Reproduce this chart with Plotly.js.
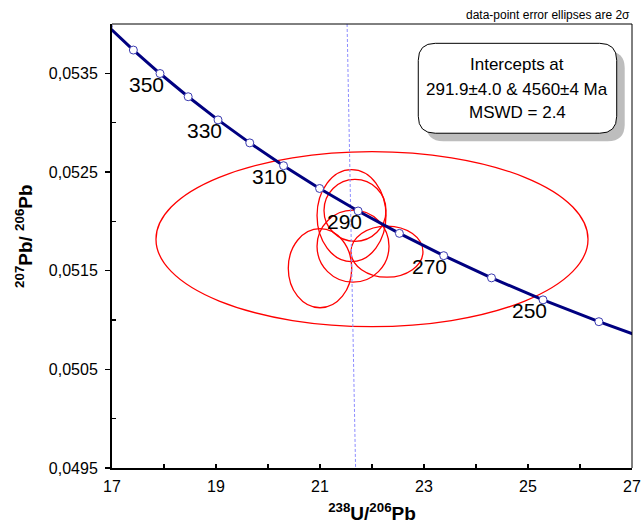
<!DOCTYPE html>
<html>
<head>
<meta charset="utf-8">
<script src="https://cdn.plot.ly/plotly-3.0.1.min.js"></script>
<style>html,body{margin:0;padding:0;background:#fff;}#chart{width:641px;height:528px;}</style>
</head>
<body>
<div id="chart"></div>
<script>
// Concordia age points (Ma) and their 238U/206Pb, 207Pb/206Pb coordinates
const concAges = [230, 240, 250, 260, 270, 280, 290, 300, 310, 320, 330, 340, 350, 360, 370];
const concX = [27.530, 26.363, 25.289, 24.298, 23.379, 22.527, 21.733, 20.992, 20.299, 19.649, 19.039, 18.465, 17.923, 17.411, 16.928];
const concY = [0.050761, 0.050983, 0.051204, 0.051427, 0.051652, 0.051878, 0.052105, 0.052333, 0.052564, 0.052795, 0.053028, 0.053263, 0.053498, 0.053736, 0.053975];
const labelAges = [350, 330, 310, 290, 270, 250];

// Data-point error ellipses (centre and 2-sigma half-axes)
const ellX  = [22.000, 21.606, 21.673, 21.635, 21.000, 22.288];
const ellY  = [0.051819, 0.052058, 0.052111, 0.051748, 0.051525, 0.051693];
const ellSX = [4.154, 0.663, 0.596, 0.692, 0.610, 0.692];
const ellSY = [0.000887, 0.000467, 0.000314, 0.000365, 0.000401, 0.000259];

// Discordia line (towards upper intercept)
const discX = [21.521, 21.684];
const discY = [0.0540, 0.0495];

// Axis ticks
const xTicks = [17, 19, 21, 23, 25, 27];
const xMinor = [18, 20, 22, 24, 26];
const yTicks = [0.0495, 0.0505, 0.0515, 0.0525, 0.0535];
const yMinor = [0.0500, 0.0510, 0.0520, 0.0530];

const boxLines = ['Intercepts at', '291.9±4.0 & 4560±4 Ma', 'MSWD = 2.4'];
const noteText = 'data-point error ellipses are 2σ';

const FONT = 'Arial, "Liberation Sans", sans-serif';

const traces = [
  {x: discX, y: discY, mode: 'lines', line: {color: '#8c8cff', width: 1, dash: '3px,2px'}, hoverinfo: 'skip'},
  {x: concX, y: concY, mode: 'lines+markers',
   line: {color: '#000080', width: 3},
   marker: {size: 8, color: '#ffffff', line: {color: '#3b3bb0', width: 1}}}
];

const shapes = [];
for (let i = 0; i < ellX.length; i++) {
  shapes.push({type: 'circle', xref: 'x', yref: 'y', layer: 'below',
    x0: ellX[i] - ellSX[i], x1: ellX[i] + ellSX[i],
    y0: ellY[i] - ellSY[i], y1: ellY[i] + ellSY[i],
    line: {color: '#ff0000', width: 1.3}});
}
// top and right frame lines
shapes.push({type: 'line', xref: 'paper', yref: 'paper', x0: 0, x1: 1, y0: 1, y1: 1, line: {color: '#000', width: 1}});
shapes.push({type: 'line', xref: 'paper', yref: 'paper', x0: 1, x1: 1, y0: 0, y1: 1, line: {color: '#000', width: 1}});

function roundRect(x0, x1, y0, y1, rx, ry) {
  return `M ${x0 + rx} ${y1} L ${x1 - rx} ${y1} Q ${x1} ${y1} ${x1} ${y1 - ry} ` +
         `L ${x1} ${y0 + ry} Q ${x1} ${y0} ${x1 - rx} ${y0} L ${x0 + rx} ${y0} ` +
         `Q ${x0} ${y0} ${x0} ${y0 + ry} L ${x0} ${y1 - ry} Q ${x0} ${y1} ${x0 + rx} ${y1} Z`;
}
const bx0 = 0.589, bx1 = 0.9706, by0 = 0.754, by1 = 0.9565;
const rx = 17 / 520, ry = 17 / 444;
const sdx = 8 / 520, sdy = 8 / 444;
shapes.push({type: 'path', xref: 'paper', yref: 'paper', layer: 'above',
  path: roundRect(bx0 + sdx, bx1 + sdx, by0 - sdy, by1 - sdy, rx, ry),
  fillcolor: '#bdbdbd', line: {width: 0}});
shapes.push({type: 'path', xref: 'paper', yref: 'paper', layer: 'above',
  path: roundRect(bx0, bx1, by0, by1, rx, ry),
  fillcolor: '#ffffff', line: {color: '#000', width: 1}});

const annotations = [];
labelAges.forEach(a => {
  const i = concAges.indexOf(a);
  annotations.push({x: concX[i], y: concY[i], xref: 'x', yref: 'y', text: String(a),
    showarrow: false, xanchor: 'center', yanchor: 'middle', xshift: -14, yshift: -11,
    font: {family: FONT, size: 21, color: '#000'}});
});
const lineY = [0.9077, 0.8536, 0.8018];
boxLines.forEach((t, k) => {
  annotations.push({x: (bx0 + bx1) / 2, y: lineY[k], xref: 'paper', yref: 'paper', text: t,
    xanchor: 'center', yanchor: 'middle', showarrow: false, font: {family: FONT, size: 17, color: '#000'}});
});
annotations.push({x: 1.0, y: 1.02, xref: 'paper', yref: 'paper', text: noteText,
  xanchor: 'right', yanchor: 'middle', showarrow: false, font: {family: FONT, size: 12, color: '#000'}});
annotations.push({x: -0.169, y: 0.523, xref: 'paper', yref: 'paper', textangle: -90,
  xanchor: 'center', yanchor: 'middle',
  text: '<b><sup>207</sup>Pb/ <sup>206</sup>Pb</b>', showarrow: false,
  font: {family: FONT, size: 19, color: '#000'}});

const layout = {
  width: 641, height: 528,
  margin: {l: 112, r: 9, t: 24, b: 60},
  paper_bgcolor: '#fff', plot_bgcolor: '#fff',
  showlegend: false,
  separators: ',.',
  font: {family: FONT, color: '#000'},
  xaxis: {range: [17, 27], tickvals: xTicks, ticks: 'inside', ticklen: 4, tickwidth: 1.5, tickcolor: '#000',
    showgrid: false, zeroline: false, showline: true, linecolor: '#000', linewidth: 2,
    tickfont: {family: FONT, size: 16, color: '#000'}, ticklabelstandoff: 3,
    minor: {tickvals: xMinor, ticks: 'inside', ticklen: 4, tickwidth: 1.5, tickcolor: '#000', showgrid: false},
    title: {text: '<b><sup>238</sup>U/<sup>206</sup>Pb</b>', font: {family: FONT, size: 19, color: '#000'}, standoff: 12}},
  yaxis: {range: [0.0495, 0.0540], tickvals: yTicks, tickformat: '.4f', ticks: 'outside', ticklen: 5, tickwidth: 1.5, tickcolor: '#000',
    showgrid: false, zeroline: false, showline: true, linecolor: '#000', linewidth: 2,
    tickfont: {family: FONT, size: 16, color: '#000'}, ticklabelstandoff: 4,
    minor: {tickvals: yMinor, ticks: 'inside', ticklen: 4, tickwidth: 1.5, tickcolor: '#000', showgrid: false}},
  shapes: shapes,
  annotations: annotations
};

Plotly.newPlot('chart', traces, layout, {displayModeBar: false, staticPlot: true});
</script>
</body>
</html>
